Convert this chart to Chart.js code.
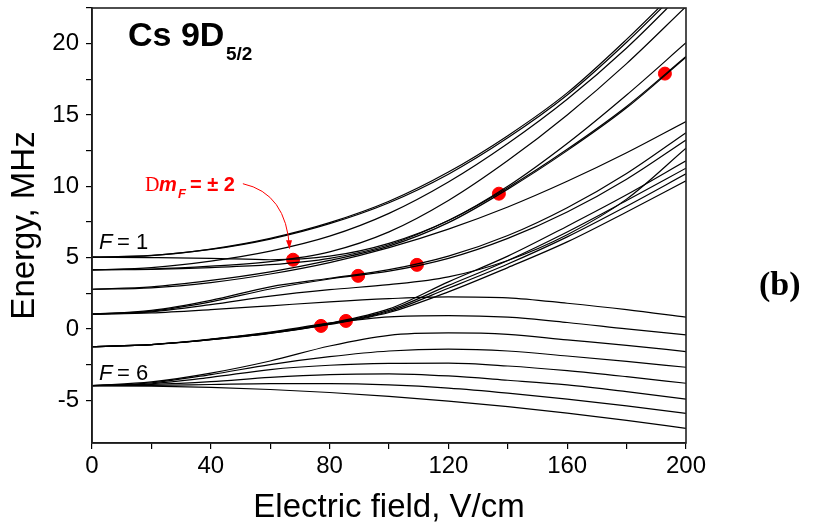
<!DOCTYPE html>
<html>
<head>
<meta charset="utf-8">
<script src="https://cdn.jsdelivr.net/npm/chart.js@4.4.1/dist/chart.umd.min.js"></script>
<style>
  html, body { margin: 0; padding: 0; background: #fff; }
  #wrap { position: relative; width: 824px; height: 526px; }
</style>
</head>
<body>
<div id="wrap"><canvas id="chart" width="824" height="526"></canvas></div>
<script>
// Field values (V/cm) at which the level energies were read
const fieldValues = [0, 20, 40, 60, 80, 100, 120, 140, 160, 180, 200];

// Upper group of levels (MHz)
const upperLevels = [
    [5.03, 5.15, 5.6, 6.35, 7.45, 8.95, 11.0, 13.55, 16.55, 20.3, 24.4],
    [5.03, 5.14, 5.57, 6.3, 7.38, 8.85, 10.85, 13.4, 16.4, 20.1, 24.2],
    [4.14, 4.3, 4.75, 5.45, 6.5, 8.1, 10.3, 13.0, 16.1, 19.7, 23.8],
    [4.14, 4.2, 4.4, 4.72, 5.4, 6.8, 9.0, 11.8, 15.0, 18.6, 22.6],
    [5.03, 5.0, 4.95, 4.85, 5.1, 6.0, 7.6, 10.0, 13.0, 16.4, 20.06],
    [4.14, 4.18, 4.3, 4.5, 4.95, 5.9, 7.6, 9.9, 12.6, 15.6, 19.1],
    [2.78, 2.95, 3.4, 4.0, 4.8, 5.8, 7.45, 9.8, 12.5, 15.5, 19.05]
];

// Middle group of levels (MHz)
const middleLevels = [
    [2.78, 2.88, 3.25, 3.85, 4.65, 5.7, 7.0, 8.55, 10.35, 12.35, 14.54],
    [1.03, 1.3, 2.0, 2.95, 3.55, 4.15, 5.1, 6.55, 8.5, 10.9, 13.76],
    [1.03, 1.25, 1.9, 2.8, 3.5, 4.05, 4.95, 6.35, 8.2, 10.5, 13.25],
    [1.03, 1.2, 1.7, 2.3, 2.75, 3.1, 3.65, 4.8, 6.6, 9.1, 12.67],
    [-1.24, -1.1, -0.73, -0.26, 0.4, 1.4, 3.3, 5.1, 7.2, 9.4, 11.78],
    [-1.24, -1.1, -0.74, -0.28, 0.37, 1.3, 3.05, 4.8, 6.8, 9.0, 11.27],
    [-1.24, -1.1, -0.75, -0.3, 0.34, 1.22, 2.85, 4.55, 6.45, 8.6, 10.87],
    [-1.24, -1.1, -0.76, -0.32, 0.31, 1.15, 2.6, 4.3, 6.1, 8.2, 10.38]
];

// Lower group of levels (MHz)
const lowerLevels = [
    [1.03, 1.12, 1.35, 1.62, 1.9, 2.12, 2.25, 2.18, 1.8, 1.35, 0.82],
    [-1.24, -1.1, -0.72, -0.22, 0.4, 0.85, 0.93, 0.82, 0.45, 0.0, -0.42],
    [-3.98, -3.72, -3.1, -2.25, -1.2, -0.45, -0.28, -0.38, -0.77, -1.15, -1.59],
    [-3.98, -3.78, -3.2, -2.5, -1.95, -1.55, -1.42, -1.55, -1.9, -2.28, -2.69],
    [-3.98, -3.85, -3.4, -2.85, -2.55, -2.42, -2.4, -2.6, -2.93, -3.35, -3.81],
    [-3.98, -3.9, -3.7, -3.4, -3.2, -3.15, -3.3, -3.6, -3.93, -4.4, -4.92],
    [-3.98, -3.96, -3.9, -3.84, -3.84, -3.93, -4.15, -4.5, -4.92, -5.4, -5.92],
    [-3.98, -4.01, -4.1, -4.25, -4.46, -4.73, -5.06, -5.45, -5.9, -6.41, -6.97]
];

// Marked crossings (dm_F = +-2)
const crossField = [67.7, 77.1, 85.5, 89.6, 109.4, 137.0, 192.9];
const crossEnergy = [4.85, 0.21, 0.56, 3.72, 4.49, 9.48, 17.9];

// Axis ticks
const xTickStep = 20;
const yTickStep = 2.5;

const SANS = '"Liberation Sans", Arial, sans-serif';
const SERIF = '"Liberation Serif", "Times New Roman", serif';

// --- datasets ---
function levelDataset(values) {
    return {
        type: 'line',
        data: values.map((v, i) => ({ x: fieldValues[i], y: v })),
        borderColor: '#000',
        borderWidth: 1.2,
        pointRadius: 0,
        cubicInterpolationMode: 'monotone',
        fill: false
    };
}

const datasets = [];
[upperLevels, middleLevels, lowerLevels].forEach(group => {
    group.forEach(values => datasets.push(levelDataset(values)));
});
datasets.push({
    type: 'scatter',
    data: crossField.map((f, i) => ({ x: f, y: crossEnergy[i] })),
    backgroundColor: '#ff0000',
    borderColor: '#ff0000',
    pointRadius: 6.5,
    pointHoverRadius: 6.5
});

// --- frame + annotations ---
const decorPlugin = {
    id: 'decor',
    afterDatasetsDraw(chart) {
        const { ctx, chartArea: a, scales } = chart;
        ctx.save();
        // frame
        ctx.strokeStyle = '#222';
        ctx.lineWidth = 1.6;
        ctx.strokeRect(a.left, a.top, a.right - a.left, a.bottom - a.top);

        // title
        ctx.fillStyle = '#000';
        ctx.textBaseline = 'alphabetic';
        ctx.font = 'bold 34px ' + SANS;
        ctx.fillText('Cs 9D', 128, 46);
        ctx.font = 'bold 19px ' + SANS;
        ctx.fillText('5/2', 226, 60);

        // F labels
        ctx.font = 'italic 22px ' + SANS;
        ctx.fillText('F', 99, 249);
        ctx.fillText('F', 99, 380);
        ctx.font = '22px ' + SANS;
        ctx.fillText('= 1', 117, 249);
        ctx.fillText('= 6', 117, 380);

        // red label
        ctx.fillStyle = '#ff0000';
        ctx.font = '20px ' + SERIF;
        ctx.fillText('D', 145, 191);
        ctx.font = 'bold italic 20px ' + SANS;
        ctx.fillText('m', 159, 191);
        ctx.font = 'bold italic 13px ' + SANS;
        ctx.fillText('F', 178, 198);
        ctx.font = 'bold 20px ' + SANS;
        ctx.fillText('= \u00b1 2', 190, 191);

        // red arrow
        const sx = scales.x, sy = scales.y;
        const p0 = [sx.getPixelForValue(50.8), sy.getPixelForValue(10.18)];
        const pc = [sx.getPixelForValue(65.5), sy.getPixelForValue(9.5)];
        const p1 = [sx.getPixelForValue(66.5), sy.getPixelForValue(5.65)];
        ctx.strokeStyle = '#ff0000';
        ctx.lineWidth = 1;
        ctx.beginPath();
        ctx.moveTo(p0[0], p0[1]);
        ctx.quadraticCurveTo(pc[0], pc[1], p1[0], p1[1]);
        ctx.stroke();
        ctx.beginPath();
        ctx.moveTo(p1[0], p1[1] + 1);
        ctx.lineTo(p1[0] - 3.5, p1[1] - 8);
        ctx.lineTo(p1[0] + 2.5, p1[1] - 8);
        ctx.closePath();
        ctx.fillStyle = '#ff0000';
        ctx.fill();

        // panel tag
        ctx.fillStyle = '#000';
        ctx.font = 'bold 34px ' + SERIF;
        ctx.fillText('(b)', 759, 295);
        ctx.restore();
    }
};

new Chart(document.getElementById('chart'), {
    data: { datasets },
    options: {
        responsive: false,
        animation: false,
        events: [],
        layout: { padding: { left: 0, right: 138, top: 8, bottom: 0 } },
        plugins: { legend: { display: false }, tooltip: { enabled: false } },
        scales: {
            x: {
                type: 'linear',
                min: 0,
                max: 200,
                border: { color: '#000', width: 1.6 },
                grid: { drawOnChartArea: false, drawTicks: true, tickLength: 6, color: '#000', lineWidth: 1.2 },
                ticks: {
                    stepSize: xTickStep,
                    color: '#000',
                    padding: 3,
                    font: { family: SANS, size: 24 },
                    callback: v => (v % 40 === 0 ? String(v) : '')
                },
                title: {
                    display: true,
                    text: 'Electric field, V/cm',
                    color: '#000',
                    font: { family: SANS, size: 33 },
                    padding: { top: 4, bottom: -2 }
                },
                afterFit: axis => {
                    axis.height = 83;
                    axis.paddingLeft = 0;
                    axis.paddingRight = 0;
                }
            },
            y: {
                type: 'linear',
                min: -8,
                max: 22.5,
                border: { color: '#000', width: 1.6 },
                grid: {
                    drawOnChartArea: false,
                    drawTicks: true,
                    tickLength: 6,
                    lineWidth: 1.2,
                    color: c => (c.tick && Math.abs(c.tick.value / yTickStep - Math.round(c.tick.value / yTickStep)) < 1e-6 ? '#000' : 'rgba(0,0,0,0)')
                },
                ticks: {
                    stepSize: yTickStep,
                    color: '#000',
                    padding: 7,
                    font: { family: SANS, size: 24 },
                    callback: v => (v % 5 === 0 ? String(v) : '')
                },
                title: {
                    display: true,
                    text: 'Energy, MHz',
                    color: '#000',
                    font: { family: SANS, size: 33 },
                    padding: { top: 5, bottom: 0 }
                },
                afterFit: axis => {
                    axis.width = 92;
                    axis.paddingTop = 0;
                    axis.paddingBottom = 0;
                }
            }
        }
    },
    plugins: [decorPlugin]
});
</script>
</body>
</html>
